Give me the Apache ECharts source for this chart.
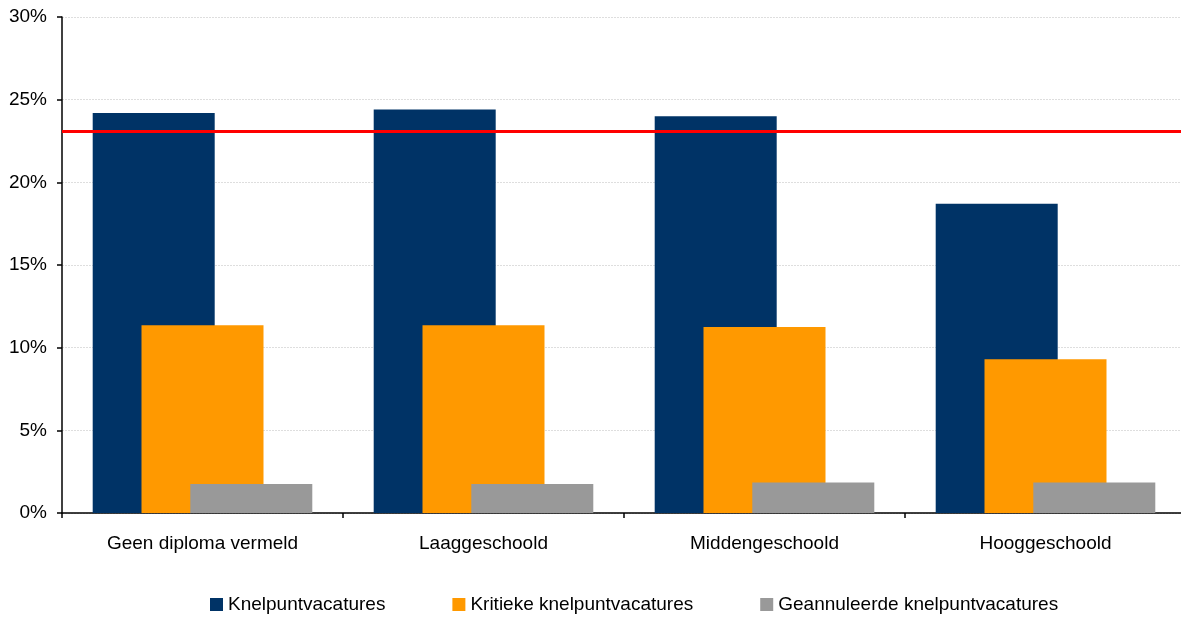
<!DOCTYPE html>
<html>
<head>
<meta charset="utf-8">
<title>Knelpuntvacatures naar diploma</title>
<script src="https://cdn.jsdelivr.net/npm/echarts@6/dist/echarts.min.js"></script>
<style>
  html, body { margin: 0; padding: 0; background: #ffffff; overflow: hidden; }
  /* canvas is a few pixels wider than the window so the plot runs past the right edge */
  #chart { width: 1186px; height: 617px; }
</style>
</head>
<body>
<div id="chart"></div>
<script>
// Categories: level of education
const categories = ['Geen diploma vermeld', 'Laaggeschoold', 'Middengeschoold', 'Hooggeschoold'];

// Shares per category (in %)
const knelpunt = [24.2, 24.4, 24.0, 18.7];
const kritiek = [11.35, 11.35, 11.25, 9.3];
const geannuleerd = [1.75, 1.75, 1.85, 1.85];

// Overall share of knelpuntvacatures (reference line, in %)
const gemiddelde = 23.1;

// Value axis ticks
const yMin = 0;
const yMax = 30;
const yStep = 5;

const seriesNames = ['Knelpuntvacatures', 'Kritieke knelpuntvacatures', 'Geannuleerde knelpuntvacatures'];
const colors = ['#003366', '#ff9900', '#999999'];

const font = 'Liberation Sans, Arial, sans-serif';

const chart = echarts.init(document.getElementById('chart'), null, { renderer: 'canvas' });

chart.setOption({
  animation: false,
  backgroundColor: '#ffffff',
  textStyle: { fontFamily: font },
  grid: { left: 62, right: 0, top: 17, bottom: 104, containLabel: false },
  legend: {
    left: 210,
    top: 595,
    padding: 0,
    itemWidth: 13,
    itemHeight: 13,
    itemGap: 67,
    icon: 'rect',
    textStyle: { fontFamily: font, fontSize: 19, color: '#000000' },
    data: seriesNames
  },
  xAxis: {
    type: 'category',
    data: categories,
    axisLine: { lineStyle: { color: '#000000', width: 1.5 } },
    axisTick: { show: true, length: 5, alignWithLabel: false, lineStyle: { color: '#000000', width: 1.5 } },
    axisLabel: { fontFamily: font, fontSize: 19, color: '#000000', margin: 21 },
    splitLine: { show: false }
  },
  yAxis: {
    type: 'value',
    min: yMin,
    max: yMax,
    interval: yStep,
    axisLine: { show: true, lineStyle: { color: '#000000', width: 1.5 } },
    axisTick: { show: true, length: 5, lineStyle: { color: '#000000', width: 1.5 } },
    axisLabel: { fontFamily: font, fontSize: 19, color: '#000000', margin: 15, formatter: '{value}%' },
    splitLine: { show: true, lineStyle: { color: '#dedede', width: 1, type: [2, 1] } }
  },
  series: [
    {
      name: seriesNames[0],
      type: 'bar',
      data: knelpunt,
      barWidth: 122,
      barGap: '-60%',
      itemStyle: { color: colors[0] },
      markLine: {
        silent: true,
        symbol: ['none', 'none'],
        label: { show: false },
        lineStyle: { color: '#ff0000', width: 3, type: 'solid' },
        data: [{ yAxis: gemiddelde }],
        z: 10
      }
    },
    {
      name: seriesNames[1],
      type: 'bar',
      data: kritiek,
      barWidth: 122,
      barGap: '-60%',
      itemStyle: { color: colors[1] }
    },
    {
      name: seriesNames[2],
      type: 'bar',
      data: geannuleerd,
      barWidth: 122,
      barGap: '-60%',
      itemStyle: { color: colors[2] }
    }
  ]
});
</script>
</body>
</html>
